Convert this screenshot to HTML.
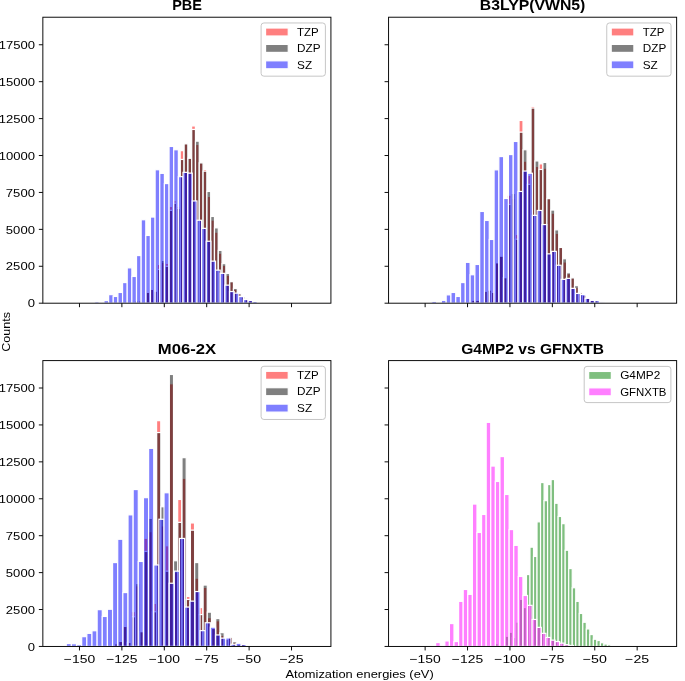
<!DOCTYPE html>
<html><head><meta charset="utf-8"><title>Histograms</title>
<style>
html,body{margin:0;padding:0;background:#fff;overflow:hidden;}
svg{display:block;will-change:transform;}
text{font-family:"Liberation Sans", sans-serif;fill:#000;}
.tk{font-size:11.6px;}
.lg{font-size:11.6px;}
.lb{font-size:11.6px;}
.ti{font-size:13.9px;font-weight:bold;}
</style></head><body>
<svg width="685" height="681" viewBox="0 0 685 681">
<rect width="685" height="681" fill="#fff"/>
<g fill="#ff0000" fill-opacity="0.5" stroke="#fff" stroke-width="1.2"><rect x="134.59" y="300.95" width="3.8" height="2.25"/><rect x="138.39" y="300.95" width="3.8" height="2.25"/><rect x="142.19" y="303.2" width="3.8" height="0"/><rect x="145.99" y="292.35" width="3.8" height="10.85"/><rect x="149.79" y="289.35" width="3.8" height="13.85"/><rect x="153.59" y="291.15" width="3.8" height="12.05"/><rect x="157.39" y="264.45" width="3.8" height="38.75"/><rect x="161.19" y="262.35" width="3.8" height="40.85"/><rect x="164.99" y="263.35" width="3.8" height="39.85"/><rect x="168.79" y="206.45" width="3.8" height="96.75"/><rect x="172.59" y="200.65" width="3.8" height="102.55"/><rect x="176.39" y="206.45" width="3.8" height="96.75"/><rect x="180.19" y="150.65" width="3.8" height="152.55"/><rect x="183.99" y="143.45" width="3.8" height="159.75"/><rect x="187.79" y="158.25" width="3.8" height="144.95"/><rect x="191.59" y="125.95" width="3.8" height="177.25"/><rect x="195.38" y="144.45" width="3.8" height="158.75"/><rect x="199.18" y="162.85" width="3.8" height="140.35"/><rect x="202.98" y="169.45" width="3.8" height="133.75"/><rect x="206.78" y="196.45" width="3.8" height="106.75"/><rect x="210.58" y="220.05" width="3.8" height="83.15"/><rect x="214.38" y="232.15" width="3.8" height="71.05"/><rect x="218.18" y="253.15" width="3.8" height="50.05"/><rect x="221.98" y="265.45" width="3.8" height="37.75"/><rect x="225.78" y="275.25" width="3.8" height="27.95"/><rect x="229.58" y="281.65" width="3.8" height="21.55"/><rect x="233.38" y="289.35" width="3.8" height="13.85"/><rect x="237.18" y="293.35" width="3.8" height="9.85"/><rect x="240.98" y="296.65" width="3.8" height="6.55"/><rect x="244.78" y="298.75" width="3.8" height="4.45"/><rect x="248.58" y="300.45" width="3.8" height="2.75"/><rect x="252.38" y="301.75" width="3.8" height="1.45"/></g>
<g fill="#000000" fill-opacity="0.5" stroke="#fff" stroke-width="1.2"><rect x="134.69" y="300.95" width="3.8" height="2.25"/><rect x="138.49" y="300.95" width="3.8" height="2.25"/><rect x="142.29" y="303.2" width="3.8" height="0"/><rect x="146.09" y="292.35" width="3.8" height="10.85"/><rect x="149.89" y="289.35" width="3.8" height="13.85"/><rect x="153.69" y="291.15" width="3.8" height="12.05"/><rect x="157.49" y="269.45" width="3.8" height="33.75"/><rect x="161.29" y="260.45" width="3.8" height="42.75"/><rect x="165.09" y="266.35" width="3.8" height="36.85"/><rect x="168.89" y="210.35" width="3.8" height="92.85"/><rect x="172.69" y="203.25" width="3.8" height="99.95"/><rect x="176.49" y="208.25" width="3.8" height="94.95"/><rect x="180.29" y="159.45" width="3.8" height="143.75"/><rect x="184.09" y="143.85" width="3.8" height="159.35"/><rect x="187.89" y="158.25" width="3.8" height="144.95"/><rect x="191.69" y="129.45" width="3.8" height="173.75"/><rect x="195.48" y="141.15" width="3.8" height="162.05"/><rect x="199.28" y="162.85" width="3.8" height="140.35"/><rect x="203.08" y="171.15" width="3.8" height="132.05"/><rect x="206.88" y="191.45" width="3.8" height="111.75"/><rect x="210.68" y="216.45" width="3.8" height="86.75"/><rect x="214.48" y="227.85" width="3.8" height="75.35"/><rect x="218.28" y="250.35" width="3.8" height="52.85"/><rect x="222.08" y="263.65" width="3.8" height="39.55"/><rect x="225.88" y="273.45" width="3.8" height="29.75"/><rect x="229.68" y="281.65" width="3.8" height="21.55"/><rect x="233.48" y="288.35" width="3.8" height="14.85"/><rect x="237.28" y="293.35" width="3.8" height="9.85"/><rect x="241.08" y="296.65" width="3.8" height="6.55"/><rect x="244.88" y="298.95" width="3.8" height="4.25"/><rect x="248.68" y="300.45" width="3.8" height="2.75"/><rect x="252.48" y="301.75" width="3.8" height="1.45"/></g>
<g fill="#0000ff" fill-opacity="0.5" stroke="#fff" stroke-width="1.2"><rect x="94.67" y="301.65" width="4.65" height="1.55"/><rect x="99.32" y="302.55" width="4.65" height="0.65"/><rect x="103.97" y="300.55" width="4.65" height="2.65"/><rect x="108.62" y="294.65" width="4.65" height="8.55"/><rect x="113.27" y="296.45" width="4.65" height="6.75"/><rect x="117.92" y="292.45" width="4.65" height="10.75"/><rect x="122.57" y="282.55" width="4.65" height="20.65"/><rect x="127.22" y="267.85" width="4.65" height="35.35"/><rect x="131.86" y="276.45" width="4.65" height="26.75"/><rect x="136.51" y="255.55" width="4.65" height="47.65"/><rect x="141.16" y="219.75" width="4.65" height="83.45"/><rect x="145.81" y="235.45" width="4.65" height="67.75"/><rect x="150.46" y="217.05" width="4.65" height="86.15"/><rect x="155.11" y="169.75" width="4.65" height="133.45"/><rect x="159.76" y="173.35" width="4.65" height="129.85"/><rect x="164.41" y="183.55" width="4.65" height="119.65"/><rect x="169.06" y="146.45" width="4.65" height="156.75"/><rect x="173.71" y="149.75" width="4.65" height="153.45"/><rect x="178.36" y="176.65" width="4.65" height="126.55"/><rect x="183.01" y="172.35" width="4.65" height="130.85"/><rect x="187.66" y="173.15" width="4.65" height="130.05"/><rect x="192.31" y="200.95" width="4.65" height="102.25"/><rect x="196.96" y="220.25" width="4.65" height="82.95"/><rect x="201.61" y="228.35" width="4.65" height="74.85"/><rect x="206.25" y="241.25" width="4.65" height="61.95"/><rect x="210.9" y="261.15" width="4.65" height="42.05"/><rect x="215.55" y="270.15" width="4.65" height="33.05"/><rect x="220.2" y="273.35" width="4.65" height="29.85"/><rect x="224.85" y="285.15" width="4.65" height="18.05"/><rect x="229.5" y="291.55" width="4.65" height="11.65"/><rect x="234.15" y="293.15" width="4.65" height="10.05"/><rect x="238.8" y="296.55" width="4.65" height="6.65"/><rect x="243.45" y="299.55" width="4.65" height="3.65"/><rect x="248.1" y="300.45" width="4.65" height="2.75"/><rect x="252.75" y="301.45" width="4.65" height="1.75"/><rect x="257.4" y="302.15" width="4.65" height="1.05"/></g>
<path d="M79.48 303.2v4M121.89 303.2v4M164.3 303.2v4M206.7 303.2v4M249.11 303.2v4M291.52 303.2v4M42.85 303.2h-4M42.85 266.28h-4M42.85 229.36h-4M42.85 192.44h-4M42.85 155.52h-4M42.85 118.6h-4M42.85 81.68h-4M42.85 44.76h-4" stroke="#000" stroke-width="0.95" fill="none"/>
<rect x="42.85" y="17.22" width="288.07" height="285.98" fill="none" stroke="#000" stroke-width="0.95"/>
<text x="34.9" y="307.35" text-anchor="end" class="tk" textLength="7.25" lengthAdjust="spacingAndGlyphs">0</text>
<text x="34.9" y="270.43" text-anchor="end" class="tk" textLength="29.01" lengthAdjust="spacingAndGlyphs">2500</text>
<text x="34.9" y="233.51" text-anchor="end" class="tk" textLength="29.01" lengthAdjust="spacingAndGlyphs">5000</text>
<text x="34.9" y="196.59" text-anchor="end" class="tk" textLength="29.01" lengthAdjust="spacingAndGlyphs">7500</text>
<text x="34.9" y="159.67" text-anchor="end" class="tk" textLength="36.27" lengthAdjust="spacingAndGlyphs">10000</text>
<text x="34.9" y="122.75" text-anchor="end" class="tk" textLength="36.27" lengthAdjust="spacingAndGlyphs">12500</text>
<text x="34.9" y="85.83" text-anchor="end" class="tk" textLength="36.27" lengthAdjust="spacingAndGlyphs">15000</text>
<text x="34.9" y="48.91" text-anchor="end" class="tk" textLength="36.27" lengthAdjust="spacingAndGlyphs">17500</text>
<g fill="#ff0000" fill-opacity="0.5" stroke="#fff" stroke-width="1.2"><rect x="471.57" y="300.25" width="3.96" height="2.95"/><rect x="475.52" y="300.25" width="3.96" height="2.95"/><rect x="479.48" y="303.2" width="3.96" height="0"/><rect x="483.44" y="291.25" width="3.96" height="11.95"/><rect x="487.39" y="290.05" width="3.96" height="13.15"/><rect x="491.35" y="292.35" width="3.96" height="10.85"/><rect x="495.3" y="262.75" width="3.96" height="40.45"/><rect x="499.26" y="256.15" width="3.96" height="47.05"/><rect x="503.22" y="277.65" width="3.96" height="25.55"/><rect x="507.17" y="195.15" width="3.96" height="108.05"/><rect x="511.13" y="198.45" width="3.96" height="104.75"/><rect x="515.09" y="234.45" width="3.96" height="68.75"/><rect x="519.04" y="120.45" width="3.96" height="182.75"/><rect x="523" y="161.15" width="3.96" height="142.05"/><rect x="526.95" y="175.35" width="3.96" height="127.85"/><rect x="530.91" y="106.35" width="3.96" height="196.85"/><rect x="534.87" y="166.45" width="3.96" height="136.75"/><rect x="538.82" y="163.85" width="3.96" height="139.35"/><rect x="542.78" y="168.15" width="3.96" height="135.05"/><rect x="546.74" y="198.25" width="3.96" height="104.95"/><rect x="550.69" y="213.15" width="3.96" height="90.05"/><rect x="554.65" y="233.35" width="3.96" height="69.85"/><rect x="558.6" y="247.45" width="3.96" height="55.75"/><rect x="562.56" y="261.95" width="3.96" height="41.25"/><rect x="566.52" y="273.65" width="3.96" height="29.55"/><rect x="570.47" y="277.85" width="3.96" height="25.35"/><rect x="574.43" y="287.45" width="3.96" height="15.75"/><rect x="578.39" y="292.65" width="3.96" height="10.55"/><rect x="582.34" y="295.05" width="3.96" height="8.15"/><rect x="586.3" y="298.05" width="3.96" height="5.15"/><rect x="590.26" y="300.15" width="3.96" height="3.05"/><rect x="594.21" y="300.55" width="3.96" height="2.65"/><rect x="598.17" y="301.95" width="3.96" height="1.25"/></g>
<g fill="#000000" fill-opacity="0.5" stroke="#fff" stroke-width="1.2"><rect x="471.67" y="300.25" width="3.96" height="2.95"/><rect x="475.62" y="300.25" width="3.96" height="2.95"/><rect x="479.58" y="303.2" width="3.96" height="0"/><rect x="483.54" y="291.25" width="3.96" height="11.95"/><rect x="487.49" y="290.05" width="3.96" height="13.15"/><rect x="491.45" y="292.35" width="3.96" height="10.85"/><rect x="495.4" y="262.75" width="3.96" height="40.45"/><rect x="499.36" y="256.15" width="3.96" height="47.05"/><rect x="503.32" y="277.65" width="3.96" height="25.55"/><rect x="507.27" y="204.45" width="3.96" height="98.75"/><rect x="511.23" y="193.45" width="3.96" height="109.75"/><rect x="515.19" y="239.25" width="3.96" height="63.95"/><rect x="519.14" y="132.15" width="3.96" height="171.05"/><rect x="523.1" y="149.75" width="3.96" height="153.45"/><rect x="527.05" y="184.35" width="3.96" height="118.85"/><rect x="531.01" y="108.05" width="3.96" height="195.15"/><rect x="534.97" y="160.95" width="3.96" height="142.25"/><rect x="538.92" y="169.45" width="3.96" height="133.75"/><rect x="542.88" y="162.45" width="3.96" height="140.75"/><rect x="546.84" y="198.65" width="3.96" height="104.55"/><rect x="550.79" y="210.05" width="3.96" height="93.15"/><rect x="554.75" y="229.85" width="3.96" height="73.35"/><rect x="558.7" y="247.45" width="3.96" height="55.75"/><rect x="562.66" y="258.75" width="3.96" height="44.45"/><rect x="566.62" y="272.75" width="3.96" height="30.45"/><rect x="570.57" y="277.85" width="3.96" height="25.35"/><rect x="574.53" y="285.65" width="3.96" height="17.55"/><rect x="578.49" y="292.95" width="3.96" height="10.25"/><rect x="582.44" y="295.05" width="3.96" height="8.15"/><rect x="586.4" y="298.05" width="3.96" height="5.15"/><rect x="590.36" y="300.15" width="3.96" height="3.05"/><rect x="594.31" y="300.55" width="3.96" height="2.65"/><rect x="598.27" y="301.95" width="3.96" height="1.25"/></g>
<g fill="#0000ff" fill-opacity="0.5" stroke="#fff" stroke-width="1.2"><rect x="431.77" y="301.35" width="4.79" height="1.85"/><rect x="436.56" y="303.2" width="4.79" height="0"/><rect x="441.36" y="300.35" width="4.79" height="2.85"/><rect x="446.15" y="294.85" width="4.79" height="8.35"/><rect x="450.94" y="292.45" width="4.79" height="10.75"/><rect x="455.73" y="296.45" width="4.79" height="6.75"/><rect x="460.52" y="282.55" width="4.79" height="20.65"/><rect x="465.32" y="262.35" width="4.79" height="40.85"/><rect x="470.11" y="274.75" width="4.79" height="28.45"/><rect x="474.9" y="264.45" width="4.79" height="38.75"/><rect x="479.69" y="211.45" width="4.79" height="91.75"/><rect x="484.48" y="220.45" width="4.79" height="82.75"/><rect x="489.27" y="239.45" width="4.79" height="63.75"/><rect x="494.07" y="169.85" width="4.79" height="133.35"/><rect x="498.86" y="156.55" width="4.79" height="146.65"/><rect x="503.65" y="198.45" width="4.79" height="104.75"/><rect x="508.44" y="154.55" width="4.79" height="148.65"/><rect x="513.23" y="141.45" width="4.79" height="161.75"/><rect x="518.03" y="191.45" width="4.79" height="111.75"/><rect x="522.82" y="171.05" width="4.79" height="132.15"/><rect x="527.61" y="173.25" width="4.79" height="129.95"/><rect x="532.4" y="215.35" width="4.79" height="87.85"/><rect x="537.19" y="210.45" width="4.79" height="92.75"/><rect x="541.99" y="224.55" width="4.79" height="78.65"/><rect x="546.78" y="253.85" width="4.79" height="49.35"/><rect x="551.57" y="251.35" width="4.79" height="51.85"/><rect x="556.36" y="265.25" width="4.79" height="37.95"/><rect x="561.15" y="279.35" width="4.79" height="23.85"/><rect x="565.95" y="278.35" width="4.79" height="24.85"/><rect x="570.74" y="288.35" width="4.79" height="14.85"/><rect x="575.53" y="293.45" width="4.79" height="9.75"/><rect x="580.32" y="294.55" width="4.79" height="8.65"/><rect x="585.11" y="298.35" width="4.79" height="4.85"/><rect x="589.9" y="300.35" width="4.79" height="2.85"/><rect x="594.7" y="300.55" width="4.79" height="2.65"/><rect x="599.49" y="301.95" width="4.79" height="1.25"/></g>
<path d="M425.13 303.2v4M467.54 303.2v4M509.94 303.2v4M552.35 303.2v4M594.76 303.2v4M637.17 303.2v4M388.57 303.2h-4M388.57 266.28h-4M388.57 229.36h-4M388.57 192.44h-4M388.57 155.52h-4M388.57 118.6h-4M388.57 81.68h-4M388.57 44.76h-4" stroke="#000" stroke-width="0.95" fill="none"/>
<rect x="388.57" y="17.22" width="288.07" height="285.98" fill="none" stroke="#000" stroke-width="0.95"/>
<g fill="#ff0000" fill-opacity="0.5" stroke="#fff" stroke-width="1.2"><rect x="114.35" y="643.85" width="4.22" height="2.6"/><rect x="118.57" y="641.45" width="4.22" height="5"/><rect x="122.79" y="626.45" width="4.22" height="20"/><rect x="127.01" y="642.45" width="4.22" height="4"/><rect x="131.23" y="611.55" width="4.22" height="34.9"/><rect x="135.46" y="585.75" width="4.22" height="60.7"/><rect x="139.68" y="631.65" width="4.22" height="14.8"/><rect x="143.9" y="538.25" width="4.22" height="108.2"/><rect x="148.12" y="531.65" width="4.22" height="114.8"/><rect x="152.34" y="603.35" width="4.22" height="43.1"/><rect x="156.56" y="420.65" width="4.22" height="225.8"/><rect x="160.78" y="525.85" width="4.22" height="120.6"/><rect x="165" y="545.75" width="4.22" height="100.7"/><rect x="169.22" y="383.75" width="4.22" height="262.7"/><rect x="173.44" y="572.45" width="4.22" height="74"/><rect x="177.66" y="499.45" width="4.22" height="147"/><rect x="181.88" y="478.25" width="4.22" height="168.2"/><rect x="186.1" y="596.45" width="4.22" height="50"/><rect x="190.32" y="522.95" width="4.22" height="123.5"/><rect x="194.54" y="578.15" width="4.22" height="68.3"/><rect x="198.76" y="607.55" width="4.22" height="38.9"/><rect x="202.98" y="587.35" width="4.22" height="59.1"/><rect x="207.2" y="617.65" width="4.22" height="28.8"/><rect x="211.42" y="628.45" width="4.22" height="18"/><rect x="215.65" y="620.75" width="4.22" height="25.7"/><rect x="219.87" y="635.35" width="4.22" height="11.1"/><rect x="224.09" y="639.45" width="4.22" height="7"/><rect x="228.31" y="637.25" width="4.22" height="9.2"/><rect x="232.53" y="642.45" width="4.22" height="4"/><rect x="236.75" y="644.45" width="4.22" height="2"/><rect x="240.97" y="643.35" width="4.22" height="3.1"/><rect x="245.19" y="645.25" width="4.22" height="1.2"/></g>
<g fill="#000000" fill-opacity="0.5" stroke="#fff" stroke-width="1.2"><rect x="114.45" y="643.85" width="4.22" height="2.6"/><rect x="118.67" y="641.45" width="4.22" height="5"/><rect x="122.89" y="626.45" width="4.22" height="20"/><rect x="127.11" y="642.45" width="4.22" height="4"/><rect x="131.34" y="616.75" width="4.22" height="29.7"/><rect x="135.56" y="583.55" width="4.22" height="62.9"/><rect x="139.78" y="631.65" width="4.22" height="14.8"/><rect x="144" y="551.45" width="4.22" height="95"/><rect x="148.22" y="518.35" width="4.22" height="128.1"/><rect x="152.44" y="611.75" width="4.22" height="34.7"/><rect x="156.66" y="432.55" width="4.22" height="213.9"/><rect x="160.88" y="506.75" width="4.22" height="139.7"/><rect x="165.1" y="571.15" width="4.22" height="75.3"/><rect x="169.32" y="374.45" width="4.22" height="272"/><rect x="173.54" y="560.75" width="4.22" height="85.7"/><rect x="177.76" y="522.35" width="4.22" height="124.1"/><rect x="181.98" y="457.65" width="4.22" height="188.8"/><rect x="186.2" y="599.45" width="4.22" height="47"/><rect x="190.42" y="530.15" width="4.22" height="116.3"/><rect x="194.64" y="562.55" width="4.22" height="83.9"/><rect x="198.86" y="614.55" width="4.22" height="31.9"/><rect x="203.08" y="585.05" width="4.22" height="61.4"/><rect x="207.3" y="612.15" width="4.22" height="34.3"/><rect x="211.52" y="628.45" width="4.22" height="18"/><rect x="215.75" y="618.55" width="4.22" height="27.9"/><rect x="219.97" y="632.65" width="4.22" height="13.8"/><rect x="224.19" y="639.45" width="4.22" height="7"/><rect x="228.41" y="637.25" width="4.22" height="9.2"/><rect x="232.63" y="641.65" width="4.22" height="4.8"/><rect x="236.85" y="644.45" width="4.22" height="2"/><rect x="241.07" y="643.95" width="4.22" height="2.5"/><rect x="245.29" y="645.25" width="4.22" height="1.2"/></g>
<g fill="#0000ff" fill-opacity="0.5" stroke="#fff" stroke-width="1.2"><rect x="66.25" y="643.55" width="5.15" height="2.9"/><rect x="71.4" y="643.75" width="5.15" height="2.7"/><rect x="76.55" y="644.65" width="5.15" height="1.8"/><rect x="81.69" y="636.65" width="5.15" height="9.8"/><rect x="86.84" y="633.35" width="5.15" height="13.1"/><rect x="91.98" y="630.75" width="5.15" height="15.7"/><rect x="97.13" y="609.65" width="5.15" height="36.8"/><rect x="102.28" y="616.45" width="5.15" height="30"/><rect x="107.42" y="609.25" width="5.15" height="37.2"/><rect x="112.57" y="562.55" width="5.15" height="83.9"/><rect x="117.71" y="539.25" width="5.15" height="107.2"/><rect x="122.86" y="592.55" width="5.15" height="53.9"/><rect x="128.01" y="514.85" width="5.15" height="131.6"/><rect x="133.15" y="489.55" width="5.15" height="156.9"/><rect x="138.3" y="561.45" width="5.15" height="85"/><rect x="143.44" y="497.65" width="5.15" height="148.8"/><rect x="148.59" y="448.35" width="5.15" height="198.1"/><rect x="153.74" y="564.95" width="5.15" height="81.5"/><rect x="158.88" y="519.25" width="5.15" height="127.2"/><rect x="164.03" y="492.75" width="5.15" height="153.7"/><rect x="169.17" y="583.25" width="5.15" height="63.2"/><rect x="174.32" y="571.15" width="5.15" height="75.3"/><rect x="179.47" y="538.45" width="5.15" height="108"/><rect x="184.61" y="607.05" width="5.15" height="39.4"/><rect x="189.76" y="601.15" width="5.15" height="45.3"/><rect x="194.91" y="591.55" width="5.15" height="54.9"/><rect x="200.05" y="630.65" width="5.15" height="15.8"/><rect x="205.2" y="622.75" width="5.15" height="23.7"/><rect x="210.34" y="627.15" width="5.15" height="19.3"/><rect x="215.49" y="634.95" width="5.15" height="11.5"/><rect x="220.64" y="638.15" width="5.15" height="8.3"/><rect x="225.78" y="637.95" width="5.15" height="8.5"/><rect x="230.93" y="644.25" width="5.15" height="2.2"/><rect x="236.07" y="643.25" width="5.15" height="3.2"/><rect x="241.22" y="644.45" width="5.15" height="2"/><rect x="246.37" y="645.25" width="5.15" height="1.2"/></g>
<path d="M79.48 646.45v4M121.89 646.45v4M164.3 646.45v4M206.7 646.45v4M249.11 646.45v4M291.52 646.45v4M42.85 646.45h-4M42.85 609.53h-4M42.85 572.61h-4M42.85 535.69h-4M42.85 498.77h-4M42.85 461.85h-4M42.85 424.93h-4M42.85 388.01h-4" stroke="#000" stroke-width="0.95" fill="none"/>
<rect x="42.85" y="360.6" width="288.07" height="285.85" fill="none" stroke="#000" stroke-width="0.95"/>
<text x="79.48" y="663.25" text-anchor="middle" class="tk" textLength="31.31" lengthAdjust="spacingAndGlyphs">−150</text>
<text x="121.89" y="663.25" text-anchor="middle" class="tk" textLength="31.31" lengthAdjust="spacingAndGlyphs">−125</text>
<text x="164.3" y="663.25" text-anchor="middle" class="tk" textLength="31.31" lengthAdjust="spacingAndGlyphs">−100</text>
<text x="206.7" y="663.25" text-anchor="middle" class="tk" textLength="24.06" lengthAdjust="spacingAndGlyphs">−75</text>
<text x="249.11" y="663.25" text-anchor="middle" class="tk" textLength="24.06" lengthAdjust="spacingAndGlyphs">−50</text>
<text x="291.52" y="663.25" text-anchor="middle" class="tk" textLength="24.06" lengthAdjust="spacingAndGlyphs">−25</text>
<text x="34.9" y="650.6" text-anchor="end" class="tk" textLength="7.25" lengthAdjust="spacingAndGlyphs">0</text>
<text x="34.9" y="613.68" text-anchor="end" class="tk" textLength="29.01" lengthAdjust="spacingAndGlyphs">2500</text>
<text x="34.9" y="576.76" text-anchor="end" class="tk" textLength="29.01" lengthAdjust="spacingAndGlyphs">5000</text>
<text x="34.9" y="539.84" text-anchor="end" class="tk" textLength="29.01" lengthAdjust="spacingAndGlyphs">7500</text>
<text x="34.9" y="502.92" text-anchor="end" class="tk" textLength="36.27" lengthAdjust="spacingAndGlyphs">10000</text>
<text x="34.9" y="466" text-anchor="end" class="tk" textLength="36.27" lengthAdjust="spacingAndGlyphs">12500</text>
<text x="34.9" y="429.08" text-anchor="end" class="tk" textLength="36.27" lengthAdjust="spacingAndGlyphs">15000</text>
<text x="34.9" y="392.16" text-anchor="end" class="tk" textLength="36.27" lengthAdjust="spacingAndGlyphs">17500</text>
<g fill="#008000" fill-opacity="0.5" stroke="#fff" stroke-width="1.2"><rect x="494.78" y="643.65" width="3.52" height="2.8"/><rect x="498.3" y="646.45" width="3.52" height="0"/><rect x="501.82" y="646.45" width="3.52" height="0"/><rect x="505.34" y="636.25" width="3.52" height="10.2"/><rect x="508.86" y="632.25" width="3.52" height="14.2"/><rect x="512.38" y="637.55" width="3.52" height="8.9"/><rect x="515.9" y="622.05" width="3.52" height="24.4"/><rect x="519.42" y="599.35" width="3.52" height="47.1"/><rect x="522.94" y="607.55" width="3.52" height="38.9"/><rect x="526.46" y="574.55" width="3.52" height="71.9"/><rect x="529.98" y="547.15" width="3.52" height="99.3"/><rect x="533.5" y="556.45" width="3.52" height="90"/><rect x="537.03" y="521.85" width="3.52" height="124.6"/><rect x="540.55" y="482.55" width="3.52" height="163.9"/><rect x="544.07" y="500.65" width="3.52" height="145.8"/><rect x="547.59" y="484.55" width="3.52" height="161.9"/><rect x="551.11" y="479.55" width="3.52" height="166.9"/><rect x="554.63" y="503.25" width="3.52" height="143.2"/><rect x="558.15" y="516.45" width="3.52" height="130"/><rect x="561.67" y="523.65" width="3.52" height="122.8"/><rect x="565.19" y="550.25" width="3.52" height="96.2"/><rect x="568.71" y="568.55" width="3.52" height="77.9"/><rect x="572.23" y="587.75" width="3.52" height="58.7"/><rect x="575.75" y="601.35" width="3.52" height="45.1"/><rect x="579.27" y="613.45" width="3.52" height="33"/><rect x="582.8" y="622.25" width="3.52" height="24.2"/><rect x="586.32" y="628.95" width="3.52" height="17.5"/><rect x="589.84" y="634.55" width="3.52" height="11.9"/><rect x="593.36" y="639.25" width="3.52" height="7.2"/><rect x="596.88" y="640.55" width="3.52" height="5.9"/><rect x="600.4" y="642.75" width="3.52" height="3.7"/><rect x="603.92" y="644.05" width="3.52" height="2.4"/><rect x="607.44" y="644.75" width="3.52" height="1.7"/><rect x="610.96" y="645.35" width="3.52" height="1.1"/></g>
<g fill="#ff00ff" fill-opacity="0.5" stroke="#fff" stroke-width="1.2"><rect x="435.63" y="642.55" width="4.59" height="3.9"/><rect x="440.23" y="646.45" width="4.59" height="0"/><rect x="444.82" y="640.95" width="4.59" height="5.5"/><rect x="449.42" y="623.55" width="4.59" height="22.9"/><rect x="454.01" y="641.55" width="4.59" height="4.9"/><rect x="458.6" y="601.35" width="4.59" height="45.1"/><rect x="463.2" y="589.45" width="4.59" height="57"/><rect x="467.79" y="594.35" width="4.59" height="52.1"/><rect x="472.39" y="504.05" width="4.59" height="142.4"/><rect x="476.98" y="532.45" width="4.59" height="114"/><rect x="481.57" y="514.45" width="4.59" height="132"/><rect x="486.17" y="422.35" width="4.59" height="224.1"/><rect x="490.76" y="466.05" width="4.59" height="180.4"/><rect x="495.36" y="481.45" width="4.59" height="165"/><rect x="499.95" y="456.55" width="4.59" height="189.9"/><rect x="504.54" y="494.45" width="4.59" height="152"/><rect x="509.14" y="529.55" width="4.59" height="116.9"/><rect x="513.73" y="545.35" width="4.59" height="101.1"/><rect x="518.33" y="576.45" width="4.59" height="70"/><rect x="522.92" y="595.45" width="4.59" height="51"/><rect x="527.51" y="605.35" width="4.59" height="41.1"/><rect x="532.11" y="619.45" width="4.59" height="27"/><rect x="536.7" y="627.35" width="4.59" height="19.1"/><rect x="541.3" y="633.35" width="4.59" height="13.1"/><rect x="545.89" y="637.45" width="4.59" height="9"/><rect x="550.48" y="640.15" width="4.59" height="6.3"/><rect x="555.08" y="641.55" width="4.59" height="4.9"/><rect x="559.67" y="643.15" width="4.59" height="3.3"/><rect x="564.27" y="644.65" width="4.59" height="1.8"/><rect x="568.86" y="645.45" width="4.59" height="1"/></g>
<path d="M425.13 646.45v4M467.54 646.45v4M509.94 646.45v4M552.35 646.45v4M594.76 646.45v4M637.17 646.45v4M388.57 646.45h-4M388.57 609.53h-4M388.57 572.61h-4M388.57 535.69h-4M388.57 498.77h-4M388.57 461.85h-4M388.57 424.93h-4M388.57 388.01h-4" stroke="#000" stroke-width="0.95" fill="none"/>
<rect x="388.57" y="360.6" width="288.07" height="285.85" fill="none" stroke="#000" stroke-width="0.95"/>
<text x="425.13" y="663.25" text-anchor="middle" class="tk" textLength="31.31" lengthAdjust="spacingAndGlyphs">−150</text>
<text x="467.54" y="663.25" text-anchor="middle" class="tk" textLength="31.31" lengthAdjust="spacingAndGlyphs">−125</text>
<text x="509.94" y="663.25" text-anchor="middle" class="tk" textLength="31.31" lengthAdjust="spacingAndGlyphs">−100</text>
<text x="552.35" y="663.25" text-anchor="middle" class="tk" textLength="24.06" lengthAdjust="spacingAndGlyphs">−75</text>
<text x="594.76" y="663.25" text-anchor="middle" class="tk" textLength="24.06" lengthAdjust="spacingAndGlyphs">−50</text>
<text x="637.17" y="663.25" text-anchor="middle" class="tk" textLength="24.06" lengthAdjust="spacingAndGlyphs">−25</text>
<rect x="261.1" y="22.96" width="64.3" height="53.2" rx="2.8" fill="#fff" fill-opacity="0.8" stroke="#c6c6c6" stroke-width="1"/>
<rect x="265.55" y="28.01" width="22.7" height="8" fill="#ff0000" fill-opacity="0.5" stroke="#fff" stroke-width="1.2"/>
<text x="297.1" y="35.76" class="lg" textLength="21.65" lengthAdjust="spacingAndGlyphs">TZP</text>
<rect x="265.55" y="44.41" width="22.7" height="8" fill="#000000" fill-opacity="0.5" stroke="#fff" stroke-width="1.2"/>
<text x="297.1" y="52.16" class="lg" textLength="23.46" lengthAdjust="spacingAndGlyphs">DZP</text>
<rect x="265.55" y="60.81" width="22.7" height="8" fill="#0000ff" fill-opacity="0.5" stroke="#fff" stroke-width="1.2"/>
<text x="297.1" y="68.56" class="lg" textLength="15.05" lengthAdjust="spacingAndGlyphs">SZ</text>
<rect x="606.75" y="22.96" width="64.3" height="53.2" rx="2.8" fill="#fff" fill-opacity="0.8" stroke="#c6c6c6" stroke-width="1"/>
<rect x="611.2" y="28.01" width="22.7" height="8" fill="#ff0000" fill-opacity="0.5" stroke="#fff" stroke-width="1.2"/>
<text x="642.75" y="35.76" class="lg" textLength="21.65" lengthAdjust="spacingAndGlyphs">TZP</text>
<rect x="611.2" y="44.41" width="22.7" height="8" fill="#000000" fill-opacity="0.5" stroke="#fff" stroke-width="1.2"/>
<text x="642.75" y="52.16" class="lg" textLength="23.46" lengthAdjust="spacingAndGlyphs">DZP</text>
<rect x="611.2" y="60.81" width="22.7" height="8" fill="#0000ff" fill-opacity="0.5" stroke="#fff" stroke-width="1.2"/>
<text x="642.75" y="68.56" class="lg" textLength="15.05" lengthAdjust="spacingAndGlyphs">SZ</text>
<rect x="261.1" y="366.26" width="64.3" height="53.2" rx="2.8" fill="#fff" fill-opacity="0.8" stroke="#c6c6c6" stroke-width="1"/>
<rect x="265.55" y="371.31" width="22.7" height="8" fill="#ff0000" fill-opacity="0.5" stroke="#fff" stroke-width="1.2"/>
<text x="297.1" y="379.06" class="lg" textLength="21.65" lengthAdjust="spacingAndGlyphs">TZP</text>
<rect x="265.55" y="387.71" width="22.7" height="8" fill="#000000" fill-opacity="0.5" stroke="#fff" stroke-width="1.2"/>
<text x="297.1" y="395.46" class="lg" textLength="23.46" lengthAdjust="spacingAndGlyphs">DZP</text>
<rect x="265.55" y="404.11" width="22.7" height="8" fill="#0000ff" fill-opacity="0.5" stroke="#fff" stroke-width="1.2"/>
<text x="297.1" y="411.86" class="lg" textLength="15.05" lengthAdjust="spacingAndGlyphs">SZ</text>
<rect x="584.2" y="366.4" width="86.7" height="36.2" rx="2.8" fill="#fff" fill-opacity="0.8" stroke="#c6c6c6" stroke-width="1"/>
<rect x="588.65" y="371.45" width="22.7" height="8" fill="#008000" fill-opacity="0.5" stroke="#fff" stroke-width="1.2"/>
<text x="620.2" y="379.2" class="lg" textLength="40.05" lengthAdjust="spacingAndGlyphs">G4MP2</text>
<rect x="588.65" y="387.85" width="22.7" height="8" fill="#ff00ff" fill-opacity="0.5" stroke="#fff" stroke-width="1.2"/>
<text x="620.2" y="395.6" class="lg" textLength="46.31" lengthAdjust="spacingAndGlyphs">GFNXTB</text>
<text x="187.05" y="10.1" class="ti" text-anchor="middle" textLength="29.8" lengthAdjust="spacingAndGlyphs">PBE</text>
<text x="532.6" y="10.1" class="ti" text-anchor="middle" textLength="105.6" lengthAdjust="spacingAndGlyphs">B3LYP(VWN5)</text>
<text x="187.05" y="353.8" class="ti" text-anchor="middle" textLength="58.39" lengthAdjust="spacingAndGlyphs">M06-2X</text>
<text x="532.6" y="353.8" class="ti" text-anchor="middle" textLength="142.82" lengthAdjust="spacingAndGlyphs">G4MP2 vs GFNXTB</text>
<text x="359.6" y="678.3" class="lb" text-anchor="middle" textLength="148.17" lengthAdjust="spacingAndGlyphs">Atomization energies (eV)</text>
<text transform="translate(10.3 331.9) rotate(-90)" class="lb" text-anchor="middle" textLength="39.79" lengthAdjust="spacingAndGlyphs">Counts</text>
</svg>
</body></html>
